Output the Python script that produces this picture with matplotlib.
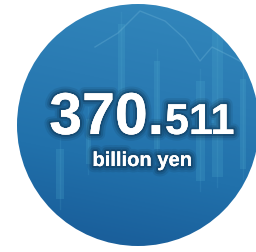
"""Round badge: 370.511 billion yen on a blue market-chart backdrop."""

import matplotlib
matplotlib.use("Agg")
import matplotlib.pyplot as plt
import matplotlib.patheffects as pe
import numpy as np
from matplotlib.colors import LinearSegmentedColormap
from matplotlib.patches import Circle

# value shown on the badge
VALUE_MAIN = "370."
VALUE_DECIMALS = "511"
UNIT = "billion yen"

# faint background candles: centre x, top y, bottom y, width (pixel space)
CANDLE_X = [121, 157, 200, 217, 243, 60, 88]
CANDLE_TOP = [25, 62, 82, 32, 80, 150, 120]
CANDLE_BOT = [112, 150, 182, 178, 170, 200, 165]
CANDLE_W = [7, 6, 9, 11, 6, 8, 5]

# faint price line across the top
LINE_X = [95, 118, 140, 165, 185, 200, 212, 232, 255]
LINE_Y = [48, 34, 12, 22, 40, 62, 48, 58, 70]

W, H = 256, 253
CX, CY, R = 138, 126, 121

fig = plt.figure(figsize=(W / 100, H / 100), dpi=100)
ax = fig.add_axes([0, 0, 1, 1])
ax.set_xlim(0, W)
ax.set_ylim(H, 0)
ax.axis("off")

# blue gradient: slightly lighter at the top, darker toward the bottom
yy, xx = np.mgrid[0:H, 0:W]
t = ((xx - CX) * 0.2 - (yy - CY) * 0.95) / (R * 1.9) + 0.5
t = np.clip(t, 0, 1)
cmap = LinearSegmentedColormap.from_list(
    "badge", ["#1a5f9b", "#2171ab", "#2a7bb3", "#3185ba"])
circ = Circle((CX, CY), R, transform=ax.transData)
img = ax.imshow(t, cmap=cmap, extent=(0, W, H, 0), origin="upper",
                interpolation="bilinear", zorder=1)
img.set_clip_path(circ)

for x, top, bot, w in zip(CANDLE_X, CANDLE_TOP, CANDLE_BOT, CANDLE_W):
    b = ax.bar(x, bot - top, bottom=top, width=w, color="#4aa6cc",
               alpha=0.25, zorder=2, linewidth=0)
    for p in b:
        p.set_clip_path(circ)
    ln, = ax.plot([x, x], [top - 12, bot + 10], color="#5ab0d4",
                  alpha=0.15, lw=1, zorder=2)
    ln.set_clip_path(circ)

ln, = ax.plot(LINE_X, LINE_Y, color="#7cc0df", alpha=0.28, lw=1, zorder=2)
ln.set_clip_path(circ)

# white text with a soft dark glow
glow = [pe.withStroke(linewidth=9, foreground="#0a2a45", alpha=0.12),
        pe.withStroke(linewidth=6, foreground="#0a2a45", alpha=0.2),
        pe.withStroke(linewidth=3, foreground="#0a2a45", alpha=0.35),
        pe.Normal()]
font = "Liberation Sans"

ax.text(164, 135, VALUE_MAIN, color="white", fontsize=42.5, family=font,
        fontweight="bold", ha="right", va="baseline", zorder=5,
        path_effects=glow)
ax.text(165, 135, VALUE_DECIMALS, color="white", fontsize=31, family=font,
        fontweight="bold", ha="left", va="baseline", zorder=5,
        path_effects=glow)
ax.text(142, 167, UNIT, color="white", fontsize=14.5, family=font,
        fontweight="bold", ha="center", va="baseline", zorder=5,
        path_effects=glow)

fig.savefig("out.png", dpi=100, facecolor="white")
